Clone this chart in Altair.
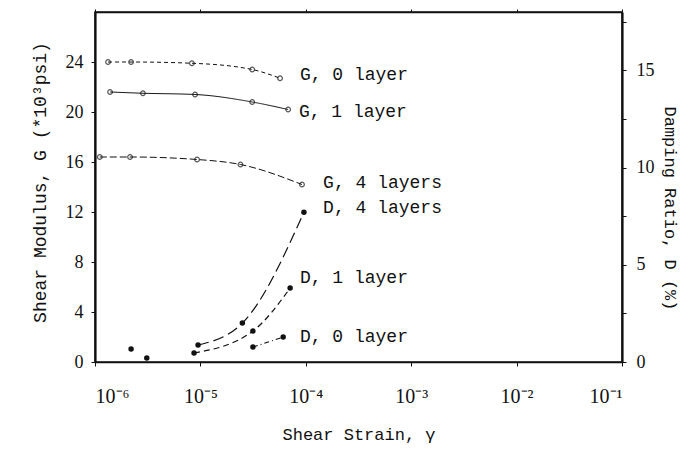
import altair as alt
import pandas as pd

# ---- data ----
g0_x = [1.33e-6, 2.2e-6, 8.3e-6, 3.1e-5, 5.7e-5]
g0_y = [24.0, 24.0, 23.9, 23.4, 22.7]
g1_x = [1.39e-6, 2.85e-6, 8.9e-6, 3.1e-5, 6.8e-5]
g1_y = [21.6, 21.5, 21.4, 20.8, 20.2]
g4_x = [1.11e-6, 2.15e-6, 9.3e-6, 2.4e-5, 9.2e-5]
g4_y = [16.4, 16.4, 16.2, 15.8, 14.2]

d0_x = [2.2e-6, 3.1e-6, 3.15e-5, 6.1e-5]
d0_y = [0.67, 0.2, 0.77, 1.28]
d1_x = [8.7e-6, 3.15e-5, 7.1e-5]
d1_y = [0.46, 1.59, 3.8]
d4_x = [9.5e-6, 2.5e-5, 9.6e-5]
d4_y = [0.87, 2.0, 7.7]

label_text = ["G, 0 layer", "G, 1 layer", "G, 4 layers", "D, 4 layers", "D, 1 layer", "D, 0 layer"]
label_x = [8.8e-5, 8.6e-5, 1.46e-4, 1.46e-4, 8.8e-5, 8.8e-5]
label_y = [23.0, 20.0, 14.3, 12.3, 6.7, 2.0]

g_ticks = [0, 4, 8, 12, 16, 20, 24]
d_ticks = [0, 2.5, 5, 7.5, 10, 12.5, 15, 17.5]
x_ticks = [1e-6, 1e-5, 1e-4, 1e-3, 1e-2, 1e-1]

INK = "#111111"
MONO = "Liberation Mono"
SERIF = "Liberation Serif"

x_label_expr = (
    "datum.value < 5e-6 ? '10⁻⁶' : datum.value < 5e-5 ? '10⁻⁵' : "
    "datum.value < 5e-4 ? '10⁻⁴' : datum.value < 5e-3 ? '10⁻³' : "
    "datum.value < 5e-2 ? '10⁻²' : '10⁻¹'"
)

X = alt.X(
    "x:Q",
    scale=alt.Scale(type="log", domain=[1e-6, 1e-1], nice=False),
    axis=alt.Axis(
        values=x_ticks, labelExpr=x_label_expr, grid=False, orient="bottom",
        labelFont=SERIF, labelFontSize=20, labelColor=INK, labelPadding=20,
        tickColor=INK, tickSize=4, domainColor=INK, domainWidth=1.5,
        titleFont=MONO, titleFontSize=17, titleFontWeight="normal",
        titleColor=INK, titlePadding=20,
    ),
    title="Shear Strain, γ",
)

X_top = alt.X(
    "x:Q",
    scale=alt.Scale(type="log", domain=[1e-6, 1e-1], nice=False),
    axis=alt.Axis(
        values=x_ticks, labels=False, grid=False, orient="top", title=None,
        tickColor=INK, tickSize=3, domainColor=INK, domainWidth=1.5,
    ),
)

YG = alt.Y(
    "y:Q",
    scale=alt.Scale(domain=[0, 28], nice=False, zero=True),
    axis=alt.Axis(
        values=g_ticks, grid=False, orient="left",
        labelFont=SERIF, labelFontSize=18, labelColor=INK, labelPadding=8,
        tickColor=INK, tickSize=4, domainColor=INK, domainWidth=2.2,
        titleFont=MONO, titleFontSize=18, titleFontWeight="normal",
        titleColor=INK, titlePadding=16, titleY=170,
    ),
    title="Shear Modulus, G (*10³psi)",
)

YD = alt.Y(
    "y:Q",
    scale=alt.Scale(domain=[0, 18], nice=False, zero=True),
    axis=alt.Axis(
        values=d_ticks, grid=False, orient="right",
        labelExpr="datum.value % 5 == 0 ? datum.label : ''",
        labelFont=SERIF, labelFontSize=18, labelColor=INK, labelPadding=10,
        tickColor=INK, tickSize=4, domainColor=INK, domainWidth=2.2,
        titleFont=MONO, titleFontSize=17, titleFontWeight="normal",
        titleColor=INK, titlePadding=6, titleY=196,
    ),
    title="Damping Ratio, D (%)",
)


def frame(xs, ys):
    return pd.DataFrame({"x": xs, "y": ys})


g_specs = [(g0_x, g0_y, [4, 3]), (g1_x, g1_y, [1, 0]), (g4_x, g4_y, [7, 3])]
g_layers = []
for xs, ys, dash in g_specs:
    df = frame(xs, ys)
    g_layers.append(
        alt.Chart(df).mark_line(color=INK, strokeWidth=1, strokeDash=dash, interpolate="monotone")
        .encode(x=X, y=YG)
    )
    g_layers.append(
        alt.Chart(df).mark_point(shape="circle", filled=False, color=INK, size=22, strokeWidth=1.2)
        .encode(x=X, y=YG)
    )

labels_df = pd.DataFrame({"x": label_x, "y": label_y, "t": label_text})
g_layers.append(
    alt.Chart(labels_df).mark_text(align="left", baseline="middle", font=MONO, fontSize=18, color=INK)
    .encode(x=X, y=YG, text="t:N")
)

d_layers = []
d_line_specs = [
    (d0_x[2:], d0_y[2:], [5, 3, 1, 3]),
    (d1_x, d1_y, [6, 4]),
    (d4_x, d4_y, [11, 5]),
]
for xs, ys, dash in d_line_specs:
    d_layers.append(
        alt.Chart(frame(xs, ys)).mark_line(color=INK, strokeWidth=1.2, strokeDash=dash, interpolate="monotone")
        .encode(x=X_top, y=YD)
    )
d_all = frame(d0_x + d1_x + d4_x, d0_y + d1_y + d4_y)
d_layers.append(
    alt.Chart(d_all).mark_circle(color=INK, size=30, opacity=1)
    .encode(x=X_top, y=YD)
)

chart = (
    alt.layer(alt.layer(*g_layers), alt.layer(*d_layers))
    .resolve_scale(y="independent")
    .resolve_axis(x="independent")
    .properties(
        width=527, height=350,
        autosize=alt.AutoSizeParams(type="none"),
        padding={"left": 95, "top": 12, "right": 76, "bottom": 103},
        background="white",
    )
    .configure_view(stroke=INK, strokeWidth=1.5)
)

chart.save("out.html", embed_options={"renderer": "svg", "actions": False})
